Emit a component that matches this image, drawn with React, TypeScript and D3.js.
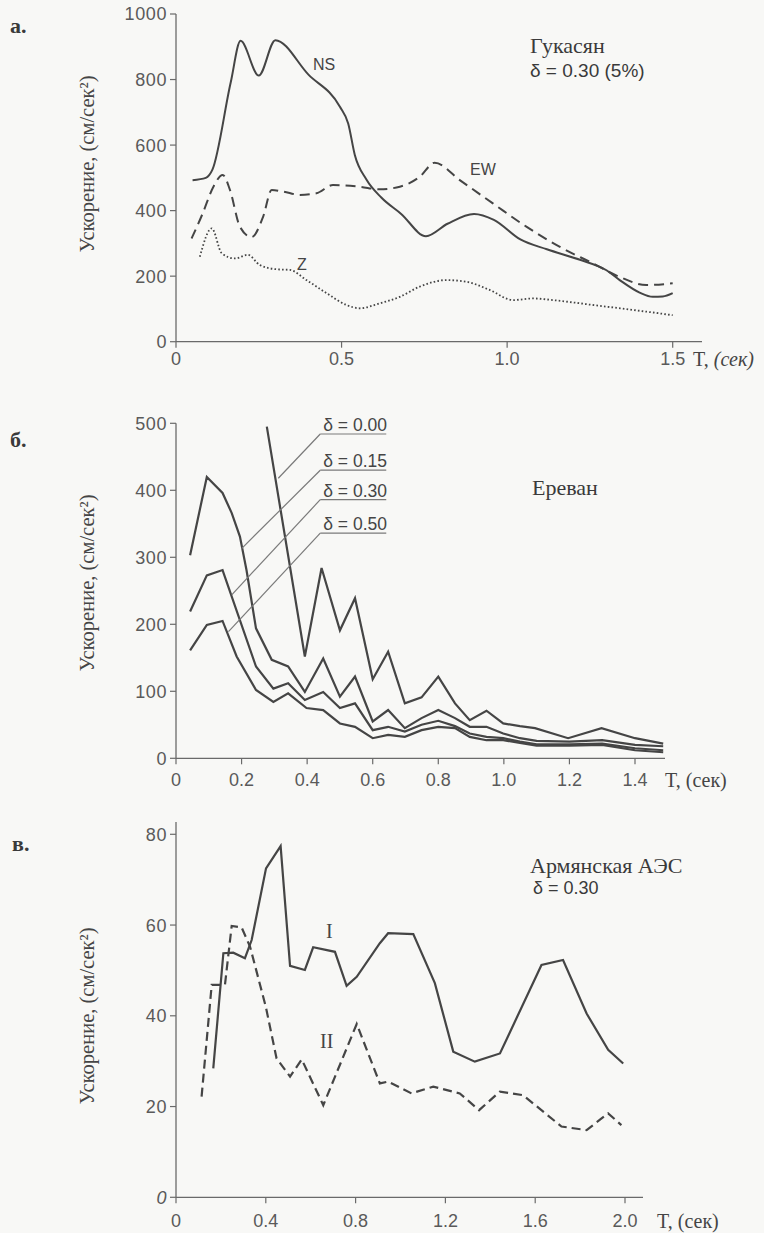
import React from "react";
import * as d3 from "d3";

// ---------- Panel а: Гукасян ----------
const nsA: [number, number][] = [
  [0.05, 493], [0.09, 500], [0.11, 525], [0.165, 790], [0.195, 918], [0.25, 812],
  [0.3, 920], [0.4, 815], [0.495, 717], [0.52, 666], [0.54, 570], [0.575, 495],
  [0.62, 440], [0.68, 390], [0.755, 322], [0.82, 360], [0.9, 390], [0.96, 372],
  [1.04, 312], [1.12, 282], [1.22, 250], [1.3, 218], [1.34, 188], [1.4, 150],
  [1.44, 137], [1.47, 138], [1.5, 148],
];
const ewA: [number, number][] = [
  [0.047, 315], [0.08, 390], [0.113, 473], [0.141, 509], [0.163, 463], [0.193, 351],
  [0.228, 319], [0.263, 381], [0.289, 463], [0.324, 458], [0.374, 448], [0.424, 453],
  [0.474, 478], [0.555, 473], [0.615, 465], [0.676, 473], [0.736, 503], [0.781, 546],
  [0.857, 493], [0.957, 422], [1.058, 351], [1.158, 290], [1.259, 239], [1.339, 198],
  [1.42, 173], [1.5, 178],
];
const zA: [number, number][] = [
  [0.072, 259], [0.108, 346], [0.138, 270], [0.178, 254], [0.217, 265], [0.253, 234],
  [0.304, 221], [0.344, 219], [0.394, 188], [0.455, 148], [0.515, 112], [0.555, 102],
  [0.615, 117], [0.676, 137], [0.736, 168], [0.817, 188], [0.877, 183], [0.947, 158],
  [1.018, 127], [1.078, 132], [1.138, 127], [1.259, 112], [1.38, 97], [1.5, 81],
];
const xTicksA = [0, 0.5, 1.0, 1.5];
const xTickLabelsA = ["0", "0.5", "1.0", "1.5"];
const yTicksA = [0, 200, 400, 600, 800, 1000];

// ---------- Panel б: Ереван ----------
const d000: [number, number][] = [
  [0.277, 495], [0.393, 152], [0.444, 284], [0.5, 191], [0.546, 239], [0.6, 118],
  [0.647, 159], [0.698, 82], [0.749, 91], [0.8, 122], [0.851, 82], [0.896, 57],
  [0.947, 71], [0.998, 52], [1.049, 48], [1.095, 45], [1.196, 30], [1.298, 45],
  [1.4, 30], [1.486, 22],
];
const d015: [number, number][] = [
  [0.043, 303], [0.094, 420], [0.142, 396], [0.17, 366], [0.195, 331], [0.215, 281],
  [0.244, 194], [0.292, 147], [0.342, 137], [0.393, 99], [0.449, 149], [0.5, 92],
  [0.546, 122], [0.6, 55], [0.647, 72], [0.698, 45], [0.749, 60], [0.8, 72],
  [0.851, 60], [0.896, 47], [0.947, 47], [0.998, 37], [1.049, 30], [1.1, 26],
  [1.2, 25], [1.3, 27], [1.4, 20], [1.486, 18],
];
const d030: [number, number][] = [
  [0.043, 219], [0.094, 273], [0.142, 281], [0.244, 137], [0.297, 104], [0.342, 112],
  [0.393, 87], [0.449, 99], [0.5, 75], [0.546, 82], [0.6, 42], [0.647, 47],
  [0.698, 40], [0.749, 50], [0.8, 56], [0.851, 48], [0.896, 37], [0.947, 32],
  [0.998, 30], [1.049, 25], [1.1, 21], [1.2, 21], [1.3, 22], [1.4, 15], [1.486, 12],
];
const d050: [number, number][] = [
  [0.043, 161], [0.094, 199], [0.142, 205], [0.185, 152], [0.244, 102], [0.297, 84],
  [0.342, 97], [0.398, 75], [0.449, 72], [0.5, 52], [0.546, 47], [0.6, 30],
  [0.647, 35], [0.698, 32], [0.749, 42], [0.8, 47], [0.851, 45], [0.896, 32],
  [0.947, 27], [0.998, 27], [1.049, 23], [1.1, 19], [1.2, 19], [1.3, 20],
  [1.4, 12], [1.486, 9],
];
const deltaLabels = ["δ = 0.00", "δ = 0.15", "δ = 0.30", "δ = 0.50"];
// leader anchors (label end) and curve end points, in data units
const leaderLabelPos: [number, number][] = [[0.44, 484], [0.44, 430], [0.44, 386], [0.44, 336]];
const leaderCurvePos: [number, number][] = [[0.312, 418], [0.2, 313], [0.17, 244], [0.16, 189]];
const xTicksB = [0, 0.2, 0.4, 0.6, 0.8, 1.0, 1.2, 1.4];
const yTicksB = [0, 100, 200, 300, 400, 500];

// ---------- Panel в: Армянская АЭС ----------
const seriesI: [number, number][] = [
  [0.166, 28.4], [0.211, 53.8], [0.255, 53.9], [0.307, 52.7], [0.337, 56.7],
  [0.401, 72.5], [0.466, 77.4], [0.508, 51], [0.574, 50.1], [0.611, 55.1],
  [0.708, 54.1], [0.76, 46.6], [0.805, 48.6], [0.908, 56], [0.945, 58.2],
  [1.057, 58], [1.153, 47.2], [1.235, 32.1], [1.331, 29.9], [1.443, 31.7],
  [1.628, 51.2], [1.724, 52.3], [1.829, 40.5], [1.925, 32.5], [1.992, 29.5],
];
const seriesII: [number, number][] = [
  [0.114, 22.2], [0.159, 46.8], [0.218, 46.8], [0.248, 59.8], [0.292, 59.5],
  [0.33, 55.2], [0.4, 42], [0.448, 30.6], [0.508, 26.6], [0.56, 30.4],
  [0.656, 20.3], [0.805, 38.2], [0.908, 25.1], [0.945, 25.5], [1.049, 22.9],
  [1.146, 24.4], [1.264, 22.9], [1.35, 19.2], [1.443, 23.3], [1.546, 22.5],
  [1.717, 15.6], [1.829, 14.8], [1.925, 18.5], [1.984, 15.9],
];
const xTicksC = [0, 0.4, 0.8, 1.2, 1.6, 2.0];
const xTickLabelsC = ["0", "0.4", "0.8", "1.2", "1.6", "2.0"];
const yTicksC = [0, 20, 40, 60, 80];

const INK = "#454545";
const AXIS = "#6a6a6a";
const TICKTXT = "#5a5a5a";
const SANS = "'Liberation Sans', Arial, sans-serif";
const SERIF = "'Liberation Serif', 'Times New Roman', serif";

type Sc = d3.ScaleLinear<number, number>;

function Axes(props: {
  x: Sc; y: Sc; xTicks: number[]; xLabels: string[]; yTicks: number[];
  xEnd: number; yTop: number; labelY: number; xLabelY: number; titleX: number; titleBase: number;
  italicUnit?: boolean; italicZero?: boolean;
}) {
  const { x, y, xTicks, xLabels, yTicks, xEnd, yTop } = props;
  const x0 = x(0);
  const y0 = y(0);
  return (
    <g>
      <line x1={x0} x2={xEnd} y1={y0} y2={y0} stroke={AXIS} strokeWidth={1.3} />
      <line x1={x0} x2={x0} y1={yTop} y2={y0} stroke={AXIS} strokeWidth={1.3} />
      {xTicks.map((t, i) => (
        <g key={"x" + i}>
          <line x1={x(t)} x2={x(t)} y1={y0} y2={y0 + 6} stroke={AXIS} strokeWidth={1.2} />
          <text x={x(t)} y={props.xLabelY} textAnchor="middle" fontFamily={SANS} fontSize={18} fill={TICKTXT}>
            {xLabels[i]}
          </text>
        </g>
      ))}
      {yTicks.map((t, i) => (
        <g key={"y" + i}>
          <line x1={x0 - 6} x2={x0} y1={y(t)} y2={y(t)} stroke={AXIS} strokeWidth={1.2} />
          <text x={x0 - 9} y={y(t)} dy="0.36em" textAnchor="end" fontFamily={SANS} fontSize={18}
            letterSpacing={0.6} fill={TICKTXT} fontStyle={props.italicZero && t === 0 ? "italic" : "normal"}>
            {String(t)}
          </text>
        </g>
      ))}
      <text x={props.titleX} y={props.titleBase} fontFamily={SERIF} fontSize={20} fill={INK}>
        T,{" "}
        <tspan fontStyle={props.italicUnit ? "italic" : "normal"}>(сек)</tspan>
      </text>
      <text transform={`translate(94,${props.labelY}) rotate(-90)`} textAnchor="middle"
        fontFamily={SERIF} fontSize={20.5} fill={INK}>
        Ускорение, (см/сек²)
      </text>
    </g>
  );
}

export default function App() {
  const xA = d3.scaleLinear().domain([0, 1.5]).range([176, 672.7]);
  const yA = d3.scaleLinear().domain([0, 1000]).range([341.7, 14]);
  const lineA = d3.line<[number, number]>().x((d) => xA(d[0])).y((d) => yA(d[1])).curve(d3.curveMonotoneX);

  const xB = d3.scaleLinear().domain([0, 1.4]).range([176, 635]);
  const yB = d3.scaleLinear().domain([0, 500]).range([758.3, 423.3]);
  const lineB = d3.line<[number, number]>().x((d) => xB(d[0])).y((d) => yB(d[1]));

  const xC = d3.scaleLinear().domain([0, 2.0]).range([176, 625]);
  const yC = d3.scaleLinear().domain([0, 80]).range([1197.3, 834.3]);
  const lineC = d3.line<[number, number]>().x((d) => xC(d[0])).y((d) => yC(d[1]));

  const seriesB = [d000, d015, d030, d050];

  return (
    <svg width={764} height={1233} viewBox="0 0 764 1233"
      style={{ position: "absolute", left: 0, top: 0, display: "block", background: "#f8f8f6" }}>
      <rect x={0} y={0} width={764} height={1233} fill="#f8f8f6" />

      {/* ---------------- Panel а ---------------- */}
      <text x={10} y={33} fontFamily={SERIF} fontWeight="bold" fontSize={22} fill="#3a3a3a">а.</text>
      <Axes x={xA} y={yA} xTicks={xTicksA} xLabels={xTickLabelsA} yTicks={yTicksA}
        xEnd={702} yTop={14} labelY={164} xLabelY={365} titleX={693} titleBase={366} italicUnit />
      <path d={lineA(nsA) || ""} fill="none" stroke={INK} strokeWidth={2} />
      <path d={lineA(ewA) || ""} fill="none" stroke={INK} strokeWidth={2} strokeDasharray="10 6" />
      <path d={lineA(zA) || ""} fill="none" stroke={INK} strokeWidth={1.8} strokeDasharray="1.6 2.2" />
      <text x={313} y={70} fontFamily={SANS} fontSize={16} fill={INK}>NS</text>
      <text x={470} y={175} fontFamily={SANS} fontSize={16} fill={INK}>EW</text>
      <text x={297} y={270} fontFamily={SANS} fontSize={16} fill={INK}>Z</text>
      <text x={530} y={53} fontFamily={SERIF} fontSize={22} fill="#3a3a3a">Гукасян</text>
      <text x={530} y={77} fontFamily={SANS} fontSize={19} fill="#3a3a3a">δ = 0.30 (5%)</text>

      {/* ---------------- Panel б ---------------- */}
      <text x={10} y={447} fontFamily={SERIF} fontWeight="bold" fontSize={22} fill="#3a3a3a">б.</text>
      <Axes x={xB} y={yB} xTicks={xTicksB} xLabels={xTicksB.map((t) => (t === 0 ? "0" : d3.format(".1f")(t)))}
        yTicks={yTicksB} xEnd={665} yTop={423.3} labelY={583} xLabelY={786} titleX={665} titleBase={787} />
      {seriesB.map((s, i) => (
        <path key={i} d={lineB(s) || ""} fill="none" stroke={INK} strokeWidth={2.2} strokeLinejoin="miter" />
      ))}
      {deltaLabels.map((lab, i) => {
        const lx = xB(leaderLabelPos[i][0]);
        const ly = yB(leaderLabelPos[i][1]);
        return (
          <g key={lab}>
            <line x1={lx} y1={ly} x2={lx + 66} y2={ly} stroke="#7a7a7a" strokeWidth={1.2} />
            <line x1={lx} y1={ly} x2={xB(leaderCurvePos[i][0])} y2={yB(leaderCurvePos[i][1])}
              stroke="#7a7a7a" strokeWidth={1.2} />
            <text x={lx + 3} y={ly - 3} fontFamily={SANS} fontSize={17.5} fill={INK}>{lab}</text>
          </g>
        );
      })}
      <text x={532} y={495} fontFamily={SERIF} fontSize={22} fill="#3a3a3a">Ереван</text>

      {/* ---------------- Panel в ---------------- */}
      <text x={12} y={851} fontFamily={SERIF} fontWeight="bold" fontSize={22} fill="#3a3a3a">в.</text>
      <Axes x={xC} y={yC} xTicks={xTicksC} xLabels={xTickLabelsC} yTicks={yTicksC}
        xEnd={643} yTop={822} labelY={1016} xLabelY={1227} titleX={657} titleBase={1228} italicZero />
      <path d={lineC(seriesI) || ""} fill="none" stroke={INK} strokeWidth={2.2} />
      <path d={lineC(seriesII) || ""} fill="none" stroke={INK} strokeWidth={2.2} strokeDasharray="9 5" />
      <text x={326} y={938} fontFamily={SERIF} fontSize={20} fill={INK}>I</text>
      <text x={320} y={1048} fontFamily={SERIF} fontSize={20} fill={INK}>II</text>
      <text x={530} y={873} fontFamily={SERIF} fontSize={22} fill="#3a3a3a">Армянская АЭС</text>
      <text x={533} y={894} fontFamily={SANS} fontSize={18} fill="#3a3a3a">δ = 0.30</text>
    </svg>
  );
}
